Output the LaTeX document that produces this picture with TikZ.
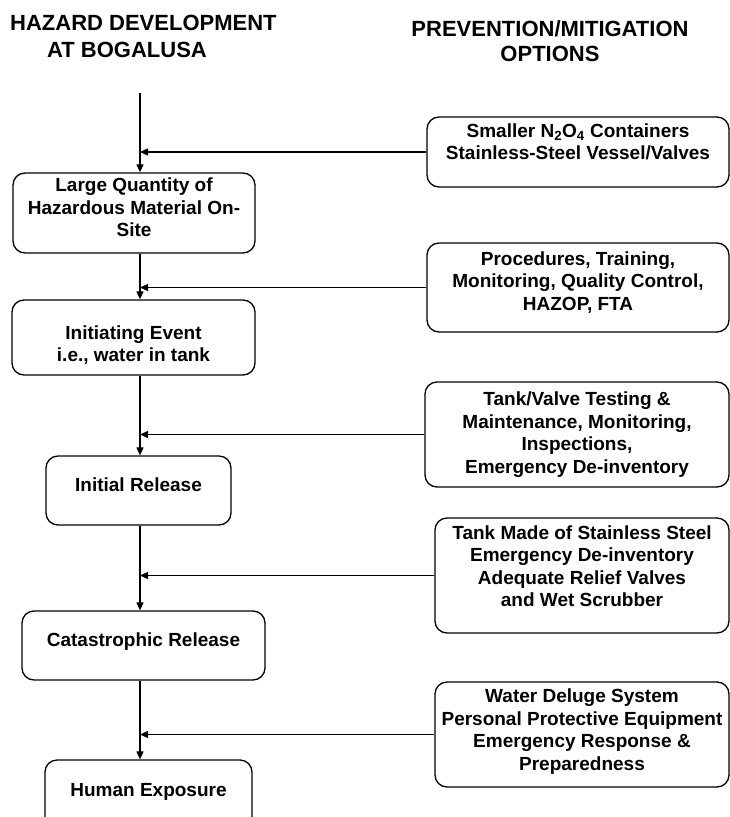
\documentclass[tikz,border=0pt]{standalone}
\usepackage{fontspec}
\setmainfont{Liberation Sans}
\usetikzlibrary{arrows.meta}

% invisible struts to lift or lower the text inside a box
\newcommand{\dn}[1]{\rule[-#1]{0pt}{#1}}
\newcommand{\up}[1]{\rule{0pt}{#1}}

\tikzset{
	hazbox/.style={draw, line width=1.3pt, rounded corners=12pt, align=center,
		inner sep=2pt, font=\fontsize{19}{22.5}\selectfont\bfseries},
	optbox/.style={hazbox},
	flow/.style={line width=1.2pt, -{Triangle[length=8pt,width=7pt]}},
	heading/.style={inner sep=0pt, font=\fontsize{22}{27}\selectfont\bfseries}
}

\begin{document}
\begin{tikzpicture}[x=1pt, y=-1pt]
			\useasboundingbox (0,0) rectangle (730,817);
			\clip (0,0) rectangle (730,817);

			% Column headings
			\node[heading, anchor=north west, align=left] (lefthead) at (10,15)
				{HAZARD DEVELOPMENT\\\hspace*{37pt}AT BOGALUSA};
			\node[heading, anchor=north, align=center, font=\fontsize{22}{25}\selectfont\bfseries]
				(righthead) at (550,20) {PREVENTION/MITIGATION\\OPTIONS};

			% Hazard development chain
			\coordinate (top) at (140,93);
			\node[hazbox, minimum width=242pt, minimum height=80pt] (hz1) at (134,213)
				{Large Quantity of\\Hazardous Material On-\\Site\dn{11pt}};
			\node[hazbox, minimum width=243pt, minimum height=75pt] (hz2) at (133.5,337.5)
				{\up{29pt}Initiating Event\\i.e., water in tank};
			\node[hazbox, minimum width=185pt, minimum height=69pt] (hz3) at (138.5,490.5)
				{Initial Release\dn{12pt}};
			\node[hazbox, minimum width=243pt, minimum height=69pt] (hz4) at (143.5,645.5)
				{Catastrophic Release\dn{12pt}};
			\node[hazbox, minimum width=207pt, minimum height=70pt] (hz5) at (148.5,795)
				{Human Exposure\dn{11pt}};

			% Prevention / mitigation options
			\node[optbox, minimum width=302pt, minimum height=70pt] (opt1) at (578,152)
				{Smaller N\textsubscript{2}O\textsubscript{4} Containers\\Stainless-Steel Vessel/Valves\dn{21pt}};
			\node[optbox, minimum width=302pt, minimum height=89pt] (opt2) at (578,287.5)
				{Procedures, Training,\\Monitoring, Quality Control,\\HAZOP, FTA\dn{13pt}};
			\node[optbox, minimum width=304pt, minimum height=105pt] (opt3) at (577,434.5)
				{Tank/Valve Testing \&\\Maintenance, Monitoring,\\Inspections,\\Emergency De-inventory};
			\node[optbox, minimum width=294pt, minimum height=115pt] (opt4) at (582,575.5)
				{Tank Made of Stainless Steel\\Emergency De-inventory\\Adequate Relief Valves\\and Wet Scrubber\dn{19pt}};
			\node[optbox, minimum width=294pt, minimum height=105pt] (opt5) at (582,734.5)
				{Water Deluge System\\Personal Protective Equipment\\Emergency Response \&\\Preparedness\dn{10pt}};

			% Main flow
			\draw[flow] (top) -- (top |- hz1.north);
			\draw[flow] (hz1.south -| top) -- (top |- hz2.north);
			\draw[flow] (hz2.south -| top) -- (top |- hz3.north);
			\draw[flow] (hz3.south -| top) -- (top |- hz4.north);
			\draw[flow] (hz4.south -| top) -- (top |- hz5.north);

			% Options feeding in
			\foreach \i in {1,...,5}
				\draw[flow] (opt\i.west) -- (opt\i.west -| top);
		\end{tikzpicture}
\end{document}
